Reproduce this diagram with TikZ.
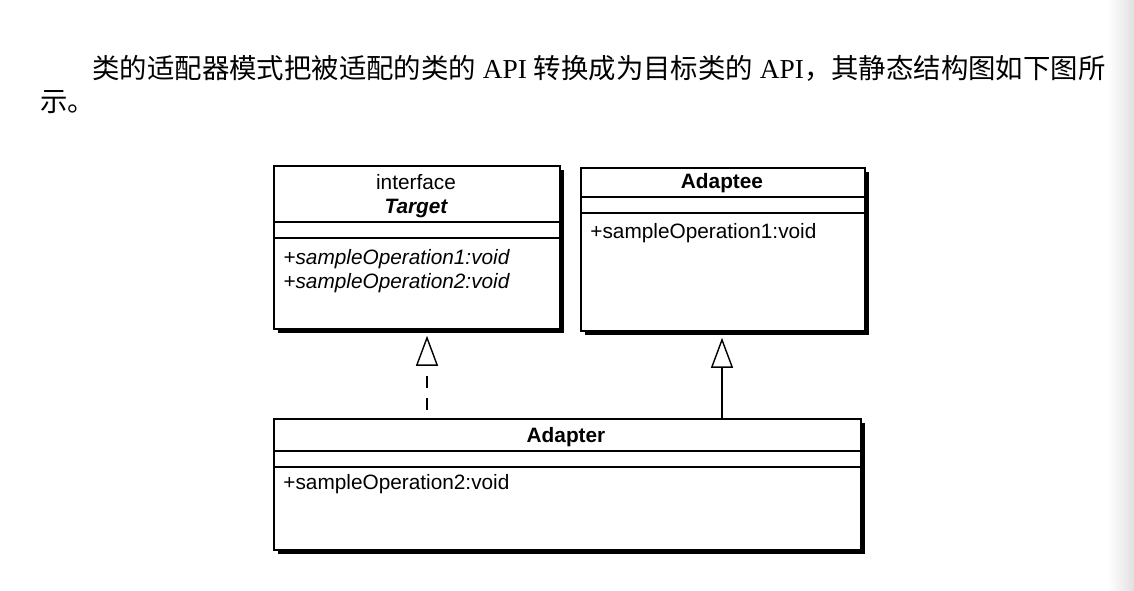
\documentclass[tikz,border=0pt]{standalone}
\usepackage{fontspec}
\setmainfont{Liberation Serif}
\newfontfamily\cjk{Noto Sans CJK SC}
\newfontfamily\umlf{Liberation Sans}
\usetikzlibrary{arrows.meta,shadows}
\begin{document}
\begin{tikzpicture}[x=0.5pt,y=-0.5pt,
  umlbox/.style={draw=black, line width=0.9pt, fill=white, anchor=north west, inner sep=0pt,
    drop shadow={shadow xshift=1.8pt, shadow yshift=-1.8pt, fill=black, opacity=1}},
  sep/.style={line width=0.8pt},
  umltext/.style={font=\umlf\fontsize{10.4pt}{12pt}\selectfont, inner sep=0pt},
  meth/.style={umltext, anchor=west},
  rel/.style={line width=0.7pt, shorten >=3pt, -{Triangle[open, width=11pt, length=15pt, line width=0.7pt]}},
  body/.style={font=\fontsize{13.7pt}{16pt}\selectfont, inner sep=0pt}
]
\useasboundingbox (0,0) rectangle (1134,590);
\shade[left color=white, right color=black!12] (1108,0) rectangle (1134,590);

% paragraph
\node[body, anchor=west] (line1) at (92,68) {{\cjk 类的适配器模式把被适配的类的} API {\cjk 转换成为目标类的} API{\cjk ，其静态结构图如下图所}};
\node[body, anchor=west] (line2) at (40,102) {{\cjk 示。}};

% Target
\node[umlbox, minimum width=143pt, minimum height=81.5pt] (target) at (273,165) {};
\draw[sep] (target.west |- 0,222) -- (target.east |- 0,222);
\draw[sep] (target.west |- 0,238) -- (target.east |- 0,238);
\node[umltext] (tint) at (416,182) {interface};
\node[umltext, font=\umlf\fontsize{10.4pt}{12pt}\selectfont\bfseries\itshape] (tname) at (416,208) {Target};
\node[meth, font=\umlf\fontsize{10.4pt}{12pt}\selectfont\itshape] (tm1) at (283,259) {+sampleOperation1:void};
\node[meth, font=\umlf\fontsize{10.4pt}{12pt}\selectfont\itshape] (tm2) at (283,283) {+sampleOperation2:void};

% Adaptee
\node[umlbox, minimum width=142pt, minimum height=81.5pt] (adaptee) at (580,167) {};
\draw[sep] (adaptee.west |- 0,197) -- (adaptee.east |- 0,197);
\draw[sep] (adaptee.west |- 0,213) -- (adaptee.east |- 0,213);
\node[umltext, font=\umlf\fontsize{10.4pt}{12pt}\selectfont\bfseries] (aname) at (722,183) {Adaptee};
\node[meth] (am1) at (590,233) {+sampleOperation1:void};

% Adapter
\node[umlbox, minimum width=293.5pt, minimum height=65.5pt] (adapter) at (273,418) {};
\draw[sep] (adapter.west |- 0,451) -- (adapter.east |- 0,451);
\draw[sep] (adapter.west |- 0,467) -- (adapter.east |- 0,467);
\node[umltext, font=\umlf\fontsize{10.4pt}{12pt}\selectfont\bfseries] (adname) at (566,437) {Adapter};
\node[meth] (adm1) at (283,484) {+sampleOperation2:void};

% relations
\coordinate (d1) at (427,410);
\draw[rel, dash pattern=on 6pt off 5pt] (d1) -- (target.south -| d1);
\draw[rel] (adapter.north -| 722,0) -- (adaptee.south -| 722,0);
\end{tikzpicture}
\end{document}
